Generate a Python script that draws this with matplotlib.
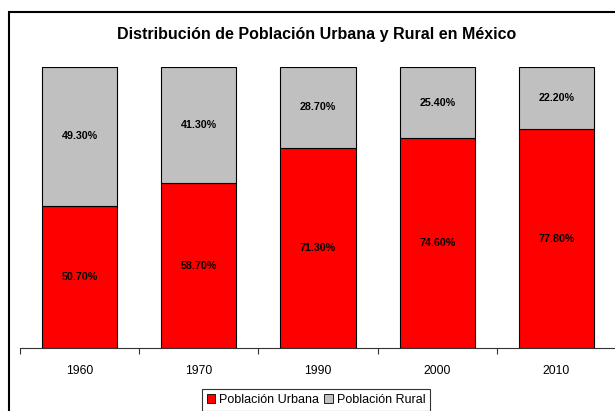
import matplotlib
matplotlib.use("Agg")
import matplotlib.pyplot as plt
from matplotlib.patches import Rectangle, Patch
import numpy as np

plt.rcParams['font.family'] = ['Liberation Sans', 'DejaVu Sans']

years = ["1960", "1970", "1990", "2000", "2010"]
urbana = [50.7, 58.7, 71.3, 74.6, 77.8]
rural = [49.3, 41.3, 28.7, 25.4, 22.2]

W, H = 615, 411
fig = plt.figure(figsize=(W/100, H/100), dpi=100)
ax = fig.add_axes([20/W, 1-348/H, (616-20)/W, (348-67)/H])

x = np.arange(len(years))
bw = 0.63
ax.bar(x, urbana, width=bw, color="#FF0000", edgecolor="black", linewidth=0.8, label="Población Urbana")
ax.bar(x, rural, width=bw, bottom=urbana, color="#C0C0C0", edgecolor="black", linewidth=0.8, label="Población Rural")

for i in range(len(years)):
    ax.text(x[i], urbana[i]/2, f"{urbana[i]:.2f}%", ha="center", va="center", fontsize=7.7, fontweight="bold")
    ax.text(x[i], urbana[i] + rural[i]/2, f"{rural[i]:.2f}%", ha="center", va="center", fontsize=7.7, fontweight="bold")

ax.set_xlim(-0.5, len(years)-0.5)
ax.set_ylim(0, 100)
ax.set_yticks([])
ax.set_xticks(x)
ax.set_xticklabels(years, fontsize=8.8)
ax.tick_params(axis="x", which="major", length=0, pad=12)
ax.set_xticks(np.arange(-0.5, len(years)), minor=True)
ax.tick_params(axis="x", which="minor", length=4, width=0.8, direction="out", color="#333333")
for s in ["top", "right", "left"]:
    ax.spines[s].set_visible(False)
ax.spines["bottom"].set_linewidth(0.8)
ax.spines["bottom"].set_color("#333333")

fig.text(317/W, 1-35/H, "Distribución de Población Urbana y Rural en México", ha="center", va="center",
         fontsize=11.5, fontweight="bold")

fig.patches.append(Rectangle((8.5/W, -0.1), 1.2, 1-12.5/H+0.1, transform=fig.transFigure,
                             fill=False, edgecolor="black", linewidth=1.5, clip_on=False))

handles = [Patch(facecolor="#FF0000", edgecolor="black", linewidth=0.6, label="Población Urbana"),
           Patch(facecolor="#C0C0C0", edgecolor="black", linewidth=0.6, label="Población Rural")]
leg = fig.legend(handles=handles, loc="upper center", bbox_to_anchor=(316/W, 1-389/H), ncol=2,
                 fontsize=9, frameon=True, fancybox=False, edgecolor="black", handlelength=0.7,
                 handleheight=0.7, handletextpad=0.3, columnspacing=0.4, borderpad=0.4, borderaxespad=0)
leg.get_frame().set_linewidth(0.8)

fig.savefig("out.png", dpi=100)
